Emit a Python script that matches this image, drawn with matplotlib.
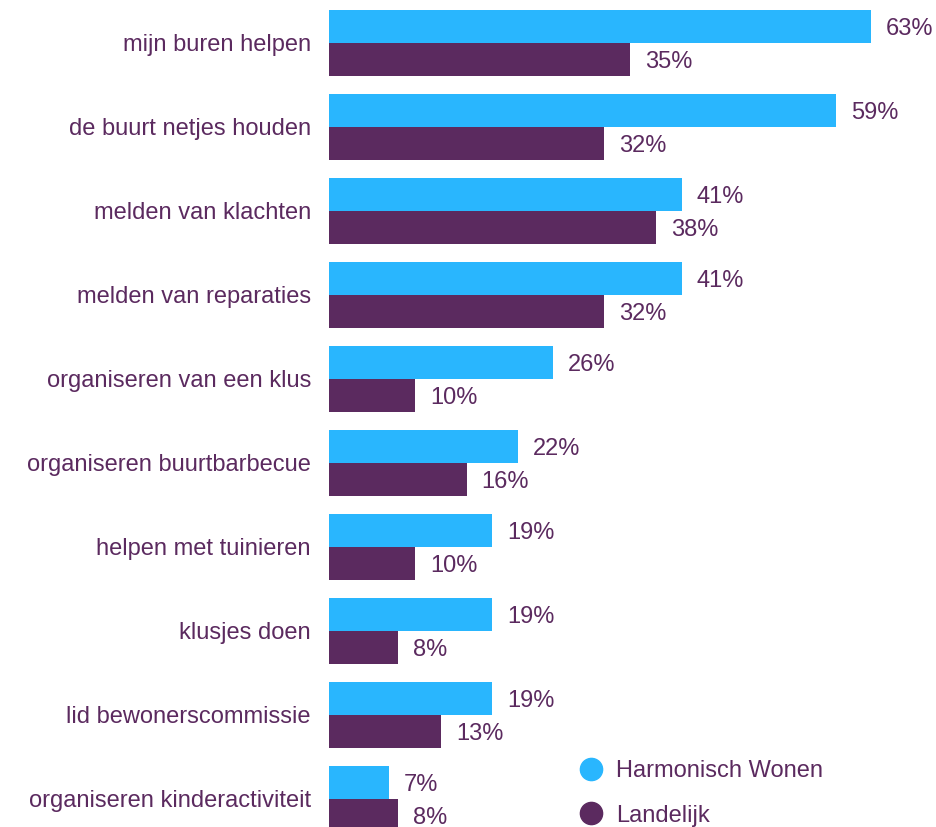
import matplotlib
matplotlib.use("Agg")
import matplotlib.pyplot as plt
from matplotlib.lines import Line2D

categories = ["mijn buren helpen", "de buurt netjes houden", "melden van klachten",
              "melden van reparaties", "organiseren van een klus", "organiseren buurtbarbecue",
              "helpen met tuinieren", "klusjes doen", "lid bewonerscommissie",
              "organiseren kinderactiviteit"]
harmonisch = [63, 59, 41, 41, 26, 22, 19, 19, 19, 7]
landelijk = [35, 32, 38, 32, 10, 16, 10, 8, 13, 8]
series_names = ["Harmonisch Wonen", "Landelijk"]

BLUE = "#29b6fe"
PURPLE = "#5b2a5f"
W, H = 937, 827
FS = 17
plt.rcParams['font.family'] = ['Liberation Sans', 'DejaVu Sans']

fig = plt.figure(figsize=(W / 100, H / 100), dpi=100)
ax = fig.add_axes([329 / W, 0, 1 - 329 / W, 1])
ax.set_xlim(0, (W - 329) / 8.6)
ax.set_ylim((827 - 43) / 84, -43 / 84)
bh = 33 / 84
dy = 2.5 / 84
for i, (a, b) in enumerate(zip(harmonisch, landelijk)):
    ax.barh(i - bh / 2, a, height=bh, color=BLUE)
    ax.barh(i + bh / 2, b, height=bh, color=PURPLE)
    ax.text(a + 15 / 8.6, i - bh / 2 + dy, f"{a}%", va="center", ha="left", color=PURPLE, fontsize=FS)
    ax.text(b + 15 / 8.6, i + bh / 2 + dy, f"{b}%", va="center", ha="left", color=PURPLE, fontsize=FS)
ax.set_yticks(range(len(categories)))
ax.set_yticklabels(categories, color=PURPLE, fontsize=FS)
ax.tick_params(axis="y", length=0, pad=13)
ax.set_xticks([])
for s in ax.spines.values():
    s.set_visible(False)

handles = [Line2D([], [], marker="o", linestyle="", markersize=16, color=c) for c in (BLUE, PURPLE)]
leg = fig.legend(handles, series_names, loc="upper left", bbox_to_anchor=(556 / W, 1 - 739 / H),
                 frameon=False, fontsize=FS, labelcolor=PURPLE, handletextpad=0.46,
                 labelspacing=0.95, handlelength=1.2)
fig.savefig("out.png", dpi=100)
